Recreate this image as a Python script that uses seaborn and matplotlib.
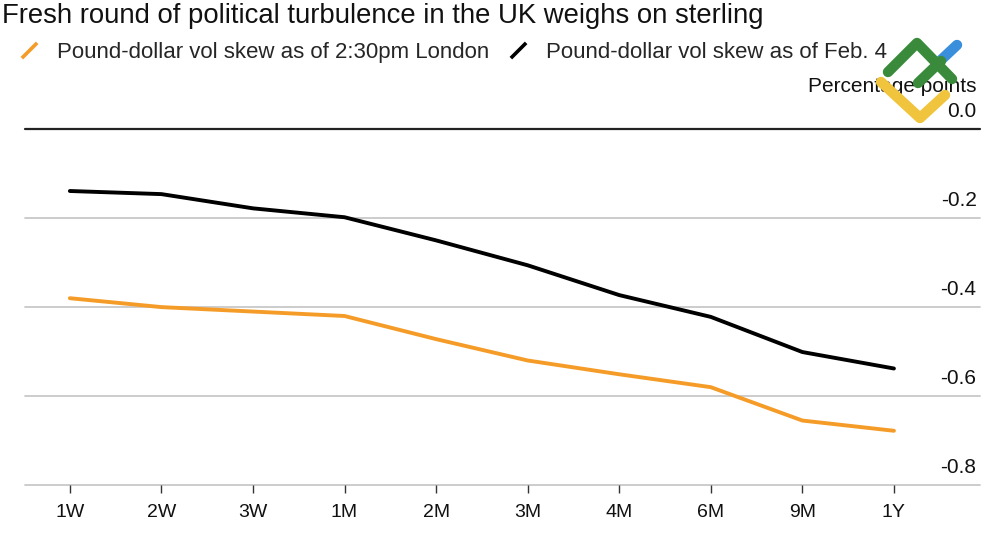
import matplotlib
matplotlib.use("Agg")
import matplotlib.pyplot as plt
from matplotlib.lines import Line2D
import seaborn as sns
import pandas as pd

# tenors on the x axis
tenors = ["1W", "2W", "3W", "1M", "2M", "3M", "4M", "6M", "9M", "1Y"]
# vol skew, percentage points
skew_now = [-0.380, -0.400, -0.410, -0.420, -0.472, -0.520, -0.551, -0.580, -0.655, -0.678]
skew_feb4 = [-0.139, -0.146, -0.178, -0.198, -0.250, -0.306, -0.373, -0.422, -0.501, -0.538]
yticks = [0.0, -0.2, -0.4, -0.6, -0.8]

label_now = "Pound-dollar vol skew as of 2:30pm London"
label_feb4 = "Pound-dollar vol skew as of Feb. 4"
orange = "#f59c28"

sns.set_theme(style="white")
plt.rcParams["font.family"] = ["Liberation Sans", "DejaVu Sans"]

df = pd.DataFrame({"tenor": tenors, "now": skew_now, "feb4": skew_feb4})
df["pos"] = range(len(tenors))

fig = plt.figure(figsize=(10, 5.45), dpi=100)
ax = fig.add_axes([0.025, 0.110, 0.955, 0.653])

sns.lineplot(data=df, x="pos", y="feb4", ax=ax, color="black", lw=2.8)
sns.lineplot(data=df, x="pos", y="now", ax=ax, color=orange, lw=2.8)

ax.set_xlim(-0.49, 9.94)
ax.set_ylim(-0.8, 0.0)
ax.set_xlabel("")
ax.set_ylabel("")
for s in ["left", "right", "top", "bottom"]:
    ax.spines[s].set_visible(False)

# horizontal gridlines, black zero line
for v in yticks:
    if v == 0.0:
        ax.axhline(v, color="#222222", lw=1.6, zorder=1, clip_on=False)
    else:
        ax.axhline(v, color="#c8c8c8", lw=1.3, zorder=0, clip_on=False)
    ax.annotate(f"{v:.1f}", xy=(1.0, v), xycoords=("axes fraction", "data"),
                xytext=(-2.5, 6), textcoords="offset points",
                ha="right", va="bottom", fontsize=15, color="#111111")
ax.set_yticks([])

ax.set_xticks(df["pos"])
ax.set_xticklabels(tenors, family=["Liberation Sans Narrow", "Liberation Sans"], fontsize=14)
ax.tick_params(axis="x", bottom=True, length=6, width=1, color="#333333", pad=7.5,
               labelcolor="#111111")

ax.annotate("Percentage points", xy=(1.0, 0.0), xycoords=("axes fraction", "data"),
            xytext=(-2.5, 24), textcoords="offset points",
            ha="right", va="bottom", fontsize=15, color="#111111")

fig.text(0.002, 0.970, "Fresh round of political turbulence in the UK weighs on sterling",
         ha="left", va="center", fontsize=19.8, color="#111111")

handles = [
    Line2D([], [], ls="none", marker=[(-1, -1), (1, 1)], markersize=11,
           markeredgewidth=2.6, color=orange, markeredgecolor=orange),
    Line2D([], [], ls="none", marker=[(-1, -1), (1, 1)], markersize=11,
           markeredgewidth=2.6, color="black", markeredgecolor="black"),
]
fig.legend(handles, [label_now, label_feb4], loc="center left", bbox_to_anchor=(0.019, 0.904),
           ncol=2, frameon=False, fontsize=16, handlelength=0.9, handletextpad=0.8,
           columnspacing=0.85, borderaxespad=0, borderpad=0)

# watermark logo (top right)
def px(pts):
    return [p[0] / 1000 for p in pts], [1 - p[1] / 545 for p in pts]

for pts, col in [
    ([(941, 60), (957, 45)], "#3a8fdc"),
    ([(888, 72), (917, 43), (952, 79)], "#3a8a3c"),
    ([(918, 83), (941, 61)], "#3a8a3c"),
    ([(881, 82), (920, 118), (945, 95)], "#f0c43c"),
]:
    xs, ys = px(pts)
    fig.add_artist(Line2D(xs, ys, transform=fig.transFigure, color=col, lw=7.5,
                          solid_capstyle="round", solid_joinstyle="round"))

fig.savefig("out.png", dpi=100)
